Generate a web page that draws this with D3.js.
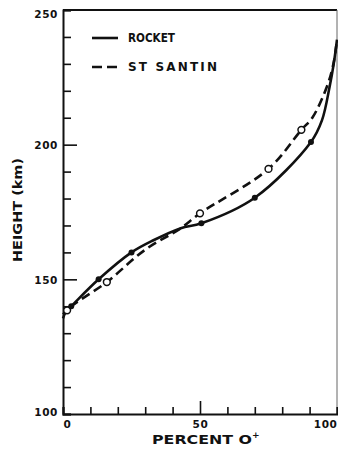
<!DOCTYPE html>
<html>
<head>
<meta charset="utf-8">
<script src="https://cdn.jsdelivr.net/npm/d3@7"></script>
<style>
  html, body { margin: 0; padding: 0; background: #fff; }
  svg { display: block; }
  text { font-family: "DejaVu Sans", sans-serif; font-weight: bold; fill: #111; }
</style>
</head>
<body>
<svg id="chart" width="338" height="454"></svg>
<script>
// Axis ticks and labels
const heightTicks = [100, 110, 120, 130, 140, 150, 160, 170, 180, 190, 200, 210, 220, 230, 240, 250];
const heightLabels = [100, 150, 200, 250];
const percentTicks = [0, 10, 20, 30, 40, 50, 60, 70, 80, 90, 100];
const percentLabels = [0, 50, 100];

// Rocket profile: percent O+ vs height (km); marked = measured points
const rocketPercent = [0, 3, 13, 25, 33, 43, 50.5, 70, 90.5, 94.5, 97.3, 98.8, 100];
const rocketHeight  = [137, 140, 150, 160, 164.5, 169, 170.8, 180.3, 201, 209, 221.5, 230, 239];
const rocketMarked  = [0, 1, 1, 1, 0, 0, 1, 1, 1, 0, 0, 0, 0];

// St Santin profile
const santinPercent = [0, 1.5, 16, 30, 43, 50, 75, 87, 91, 96.3, 98.7, 100];
const santinHeight  = [135.5, 138.5, 149, 161, 169, 174.5, 191, 205.5, 210, 221.5, 230, 239];
const santinMarked  = [0, 1, 1, 0, 0, 1, 1, 1, 0, 0, 0, 0];

const seriesNames = ["ROCKET", "ST SANTIN"];

const svg = d3.select("#chart");
const plot = { left: 63, right: 337, top: 10, bottom: 414 };

const x = d3.scaleLinear().domain([0, 100]).range([plot.left, plot.right]);
const y = d3.scaleLinear().domain([100, 250]).range([plot.bottom, plot.top]);

// Frame: top and right edges
svg.append("line").attr("x1", plot.left).attr("x2", plot.right).attr("y1", plot.top).attr("y2", plot.top)
  .attr("stroke", "#111").attr("stroke-width", 2);
svg.append("line").attr("x1", plot.right).attr("x2", plot.right).attr("y1", plot.top).attr("y2", plot.bottom)
  .attr("stroke", "#666").attr("stroke-width", 1);

// Left axis, ticks pointing inward
const yAxis = d3.axisLeft(y)
  .tickValues(heightTicks)
  .tickSize(-8)
  .tickPadding(5)
  .tickFormat(d => heightLabels.includes(d) ? d : "");
const gy = svg.append("g").attr("transform", `translate(${plot.left},0)`).call(yAxis);
gy.select(".domain").attr("stroke", "#111").attr("stroke-width", 2);
gy.selectAll(".tick line").attr("stroke", "#111").attr("stroke-width", 1.6)
  .attr("x2", d => (d === 150 || d === 200) ? 14 : 8);
gy.selectAll(".tick text")
  .style("font-size", "10.5px").style("letter-spacing", "0.6px")
  .attr("dy", d => d === 250 ? "0.7em" : d === 100 ? "0.1em" : "0.35em");

// Bottom axis, ticks pointing inward
const xAxis = d3.axisBottom(x)
  .tickValues(percentTicks)
  .tickSize(-7)
  .tickPadding(7)
  .tickFormat(d => percentLabels.includes(d) ? d : "");
const gx = svg.append("g").attr("transform", `translate(0,${plot.bottom})`).call(xAxis);
gx.select(".domain").attr("stroke", "#111").attr("stroke-width", 2);
gx.selectAll(".tick line").attr("stroke", "#111").attr("stroke-width", 1.6)
  .attr("y2", d => d === 50 ? -13 : -7);
gx.selectAll(".tick text")
  .style("font-size", "10.5px").style("letter-spacing", "0.6px")
  .attr("dy", "0.71em")
  .attr("text-anchor", d => d === 0 ? "start" : d === 100 ? "end" : "middle");

// Axis titles
svg.append("text")
  .attr("transform", "translate(22,210) rotate(-90)")
  .attr("text-anchor", "middle")
  .attr("textLength", 104).attr("lengthAdjust", "spacingAndGlyphs")
  .style("font-size", "13px")
  .text("HEIGHT (km)");

const xt = svg.append("text")
  .attr("x", 152).attr("y", 444)
  .style("font-size", "12.5px");
xt.append("tspan").attr("textLength", 100).attr("lengthAdjust", "spacingAndGlyphs").text("PERCENT O");
xt.append("tspan").attr("dy", -6).style("font-size", "9px").text("+");

// Profiles
const line = d3.line()
  .x(d => x(d[0]))
  .y(d => y(d[1]))
  .curve(d3.curveCatmullRom.alpha(0.5));

const rocket = rocketPercent.map((p, i) => [p, rocketHeight[i], rocketMarked[i]]);
const santin = santinPercent.map((p, i) => [p, santinHeight[i], santinMarked[i]]);

svg.append("path").datum(santin)
  .attr("d", line).attr("fill", "none")
  .attr("stroke", "#111").attr("stroke-width", 2.6)
  .attr("stroke-dasharray", "9,5");

svg.append("path").datum(rocket)
  .attr("d", line).attr("fill", "none")
  .attr("stroke", "#111").attr("stroke-width", 2.6);

svg.selectAll("circle.santin").data(santin.filter(d => d[2]))
  .join("circle").attr("class", "santin")
  .attr("cx", d => x(d[0])).attr("cy", d => y(d[1])).attr("r", 3.4)
  .attr("fill", "#fff").attr("stroke", "#111").attr("stroke-width", 1.5);

svg.selectAll("circle.rocket").data(rocket.filter(d => d[2]))
  .join("circle").attr("class", "rocket")
  .attr("cx", d => x(d[0])).attr("cy", d => y(d[1])).attr("r", 3)
  .attr("fill", "#111");

// Legend
const legend = svg.append("g");
const legendRows = [
  { name: seriesNames[0], dash: null, y: 38, len: 47, adjust: "spacingAndGlyphs" },
  { name: seriesNames[1], dash: "10,5", y: 67, len: 89, adjust: "spacing" }
];
legendRows.forEach(r => {
  legend.append("line")
    .attr("x1", 92).attr("x2", 118).attr("y1", r.y).attr("y2", r.y)
    .attr("stroke", "#111").attr("stroke-width", 2.6)
    .attr("stroke-dasharray", r.dash);
  legend.append("text")
    .attr("x", 128).attr("y", r.y).attr("dy", "0.36em")
    .attr("textLength", r.len).attr("lengthAdjust", r.adjust)
    .style("font-size", "12px")
    .text(r.name);
});
</script>
</body>
</html>
